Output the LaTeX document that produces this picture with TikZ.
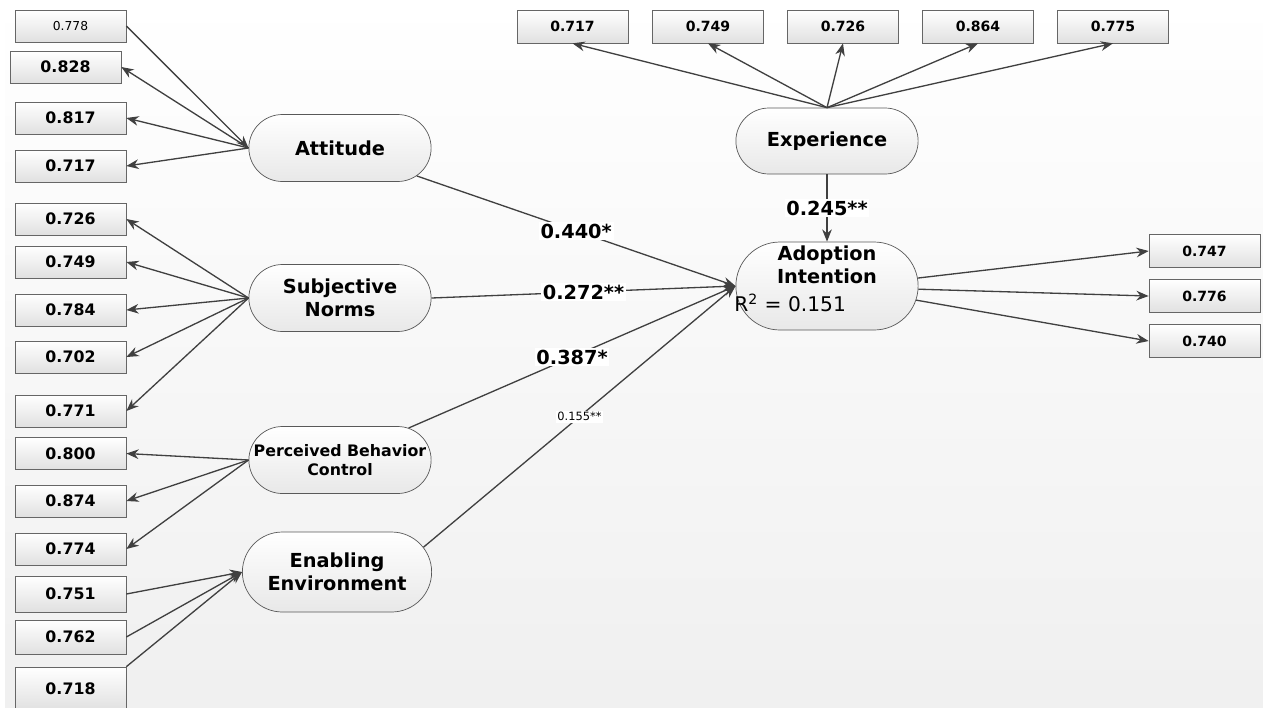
\documentclass[tikz,border=0pt]{standalone}
\usepackage{fontspec}
\setmainfont{DejaVu Sans}
\usetikzlibrary{arrows.meta,shapes.misc}
\begin{document}
\begin{tikzpicture}[x=0.02cm,y=-0.02cm,
    ind/.style={draw=black!60,top color=white,bottom color=black!12,minimum width=2.22cm,minimum height=0.64cm,inner sep=0pt,font=\bfseries\fontsize{9}{10}\selectfont},
    tind/.style={ind,minimum height=0.66cm,font=\bfseries\fontsize{8}{9}\selectfont},
    lat/.style={draw=black!65,rounded rectangle,top color=white,bottom color=black!9,minimum width=3.88cm,minimum height=1.34cm,align=center,font=\bfseries\fontsize{11}{13}\selectfont},
    lnk/.style={draw=black!75,line width=0.75pt,-{Stealth[length=7pt,width=5.5pt]}},
    coef/.style={fill=white,inner sep=1pt,font=\bfseries\fontsize{11}{13}\selectfont}]
    % background
    \useasboundingbox (0,0) rectangle (1263,707);
    \fill[white] (0,0) rectangle (1263,707);
    \shade[top color=white,bottom color=black!6] (5,0) rectangle (1263,707);
    % latent variables
    \node[lat] (att) at (340,148) {Attitude};
    \node[lat] (sn) at (340,298) {Subjective\\Norms};
    \node[lat,font=\bfseries\fontsize{9}{11}\selectfont] (pbc) at (340,460) {Perceived Behavior\\Control};
    \node[lat,minimum width=4.02cm,minimum height=1.6cm] (ee) at (337,572) {Enabling\\Environment};
    \node[lat,minimum height=1.32cm] (exp) at (827,141) {Experience};
    \node[lat,minimum height=1.76cm] (ai) at (827,286) {};
    \node[align=center,font=\bfseries\fontsize{11}{13}\selectfont] (ait) at (827,265) {Adoption\\Intention};
    \node[anchor=west,inner sep=0pt,font=\fontsize{11.5}{13}\selectfont] (air) at (734,303) {R\textsuperscript{2} = 0.151};
    % left indicators
    \node[ind,font=\fontsize{7}{8}\selectfont] (a1) at (70.5,26) {0.778};
    \node[ind] (a2) at (65.5,67) {0.828};
    \node[ind] (a3) at (70.5,118) {0.817};
    \node[ind] (a4) at (70.5,166) {0.717};
    \node[ind] (s1) at (70.5,219) {0.726};
    \node[ind] (s2) at (70.5,262) {0.749};
    \node[ind] (s3) at (70.5,310) {0.784};
    \node[ind] (s4) at (70.5,357) {0.702};
    \node[ind] (s5) at (70.5,411) {0.771};
    \node[ind] (p1) at (70.5,453.5) {0.800};
    \node[ind] (p2) at (70.5,501) {0.874};
    \node[ind] (p3) at (70.5,549) {0.774};
    \node[ind,minimum height=0.72cm] (e1) at (70.5,594) {0.751};
    \node[ind,minimum height=0.68cm] (e2) at (70.5,637) {0.762};
    \node[ind,minimum height=0.86cm] (e3) at (70.5,688.5) {0.718};
    % top and right indicators
    \node[tind] (x1) at (572.5,26.5) {0.717};
    \node[tind] (x2) at (708,26.5) {0.749};
    \node[tind] (x3) at (843,26.5) {0.726};
    \node[tind] (x4) at (978,26.5) {0.864};
    \node[tind] (x5) at (1113,26.5) {0.775};
    \node[tind] (y1) at (1204.5,251) {0.747};
    \node[tind] (y2) at (1204.5,296) {0.776};
    \node[tind] (y3) at (1204.5,341) {0.740};
    % loadings
    \draw[lnk] (a1.east) -- (att.west);
    \foreach \b in {a2,a3,a4} \draw[lnk] (att.west) -- (\b.east);
    \foreach \b in {s1,s2,s3,s4,s5} \draw[lnk] (sn.west) -- (\b.east);
    \foreach \b in {p1,p2,p3} \draw[lnk] (pbc.west) -- (\b.east);
    \draw[lnk] (e1.east) -- (ee.west);
    \draw[lnk] (e2.east) -- (ee.west);
    \draw[lnk] (e3.north east) -- (ee.west);
    \foreach \b in {x1,x2,x3,x4,x5} \draw[lnk] (exp.north) -- (\b.south);
    \draw[lnk] (ai.5) -- (y1.west);
    \draw[lnk] (ai.-2) -- (y2.west);
    \draw[lnk] (ai.-9) -- (y3.west);
    % paths
    \draw[lnk] (att.-20) -- (ai.west) node[coef,pos=0.5] {0.440*};
    \draw[lnk] (sn.east) -- (ai.west) node[coef,pos=0.5] {0.272**};
    \draw[lnk] (pbc.25) -- (ai.west) node[coef,pos=0.5] {0.387*};
    \draw[lnk] (ee.16) -- (ai.west) node[coef,pos=0.5,font=\fontsize{6.5}{8}\selectfont] {0.155**};
    \draw[lnk] (exp.south) -- (ai.north) node[coef,pos=0.5] {0.245**};
\end{tikzpicture}
\end{document}
